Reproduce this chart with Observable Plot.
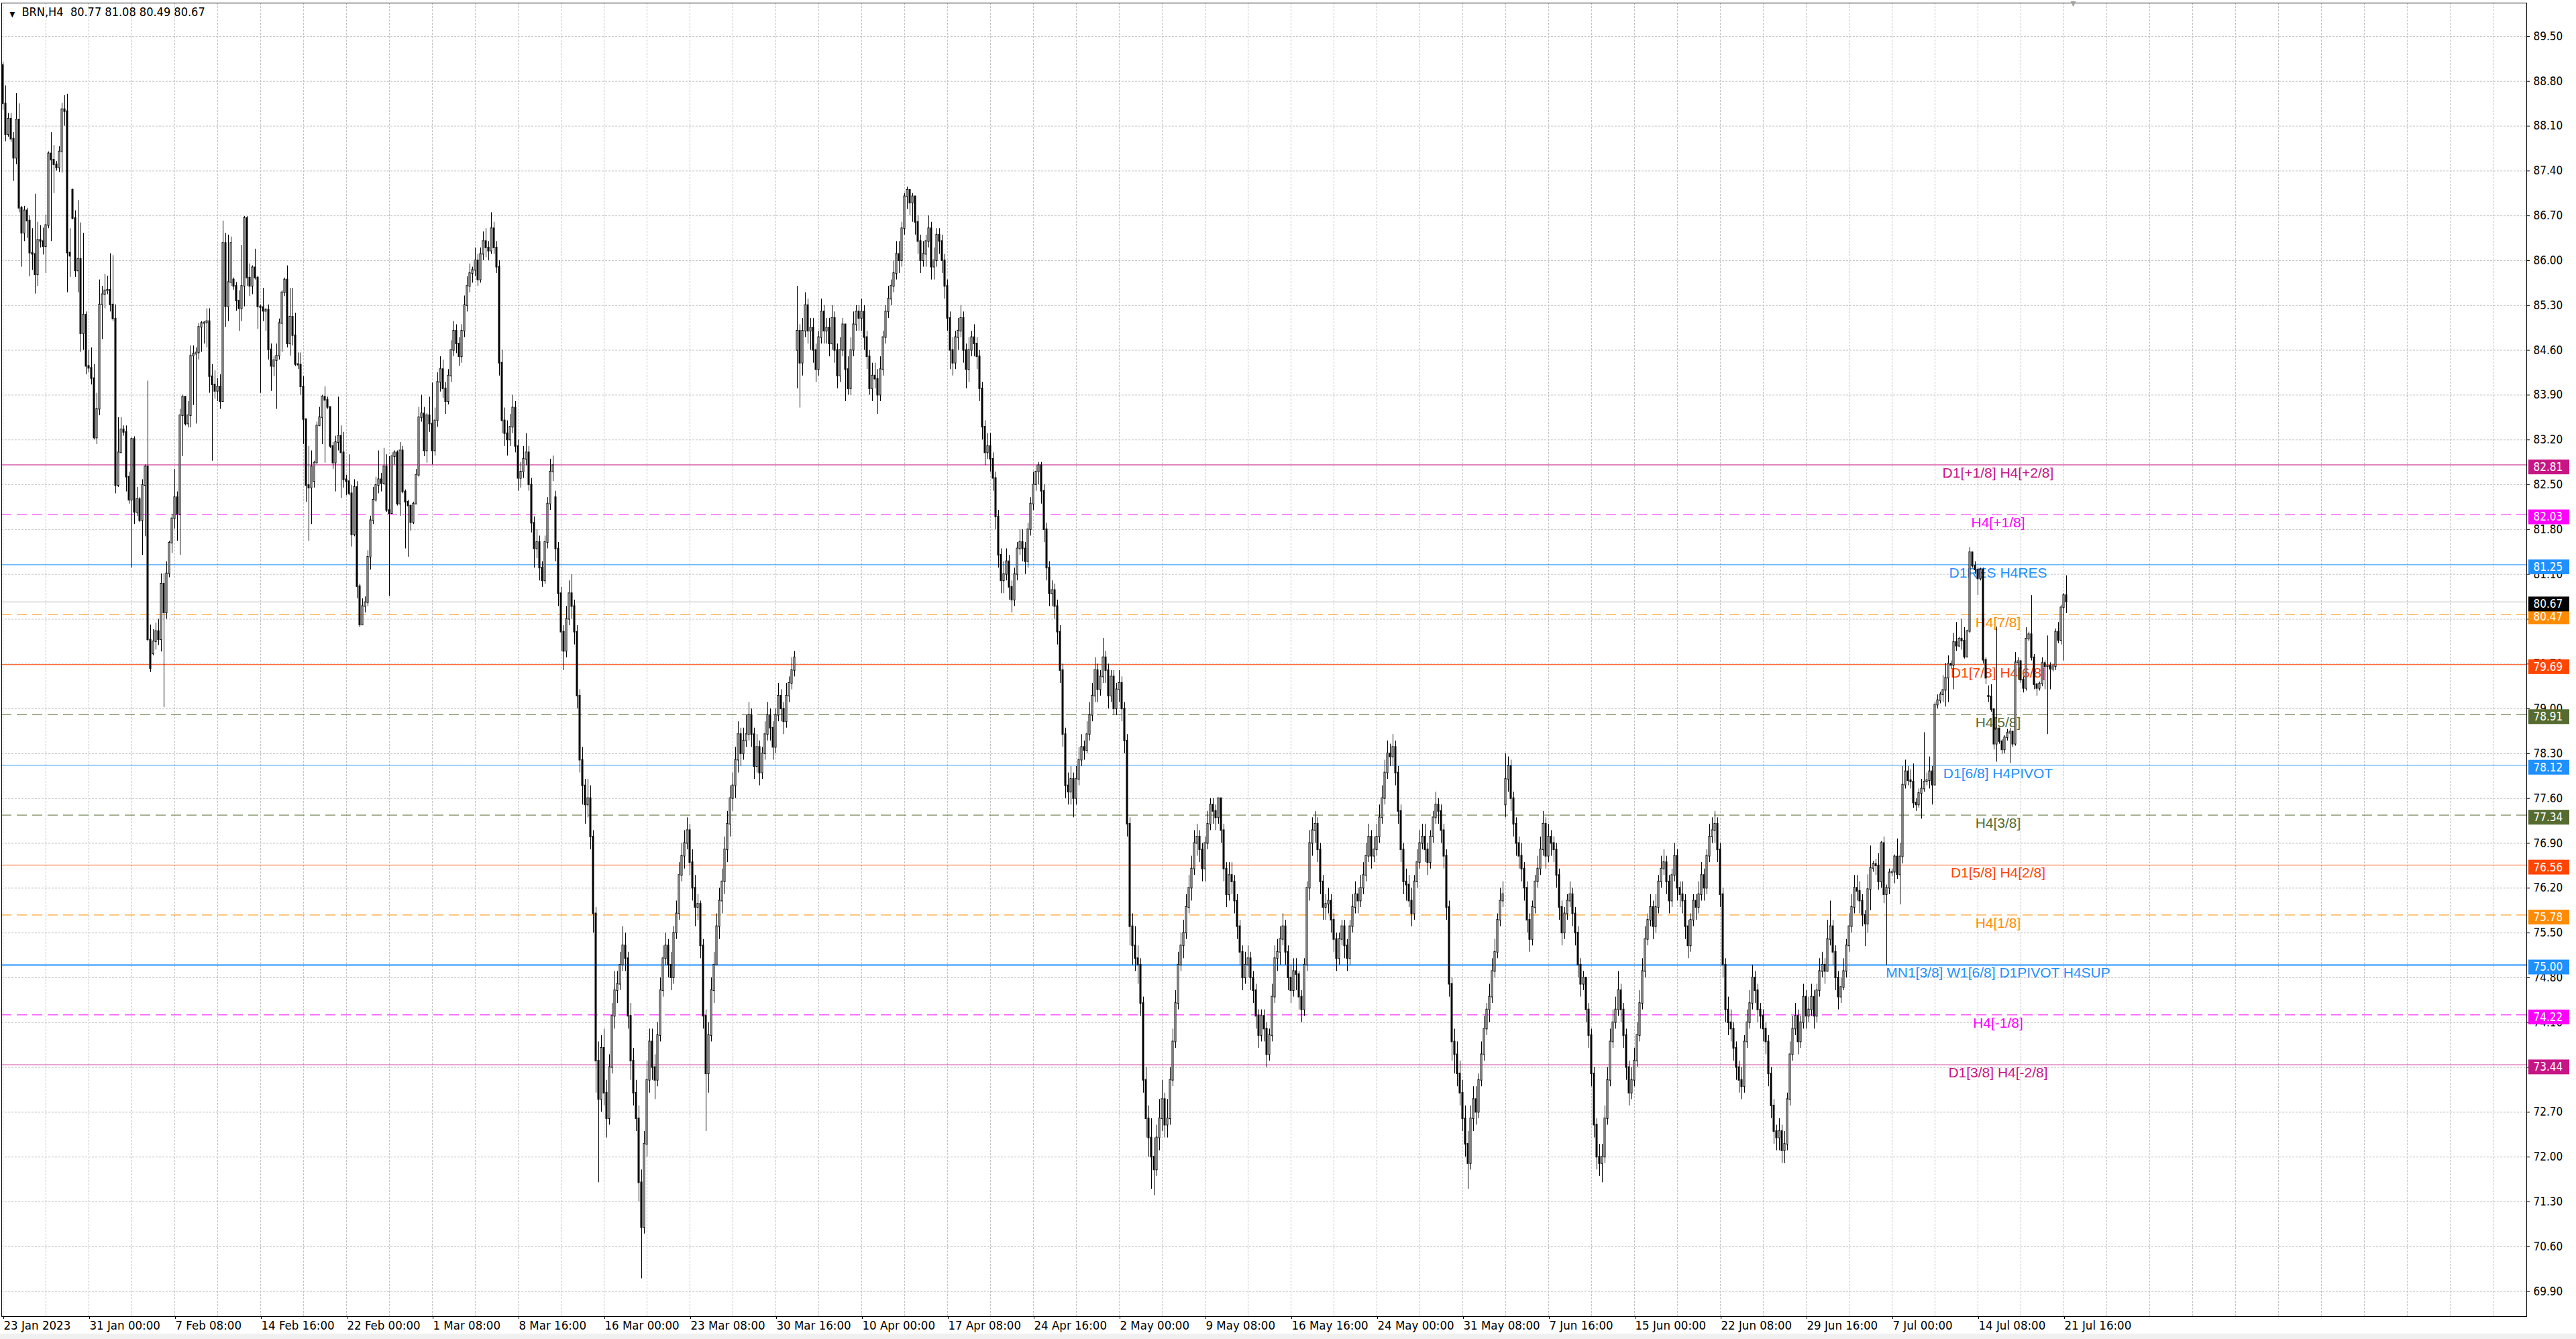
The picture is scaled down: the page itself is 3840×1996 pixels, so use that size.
<!DOCTYPE html>
<html><head><meta charset="utf-8">
<script src="https://cdn.jsdelivr.net/npm/d3@7"></script>
<script src="https://cdn.jsdelivr.net/npm/@observablehq/plot@0.6"></script>
<style>
html,body{margin:0;padding:0;background:#f0f0f0;overflow:hidden;}
#chart{position:absolute;left:0;top:0;}
</style></head><body><div id="chart"></div>
<script>
// ---- data: BRN H4 bars (index 0 = 23 Jan 2023 16:00) ----
const closes = [
88.45,87.97,88.21,87.9,87.6,88.2,86.82,86.43,86.78,86.62,
86.12,86.1,85.78,86.32,86.3,86.22,86.55,87.67,87.57,87.5,
87.45,87.7,88.36,88.33,86.12,86.07,86.66,85.84,86.02,84.86,
85.15,84.35,84.32,84.16,83.23,83.68,85.31,85.47,85.53,85.54,
85.31,85.09,82.49,83.0,83.36,83.32,82.62,82.26,83.21,82.07,
82.27,81.94,82.49,82.78,80.08,79.63,80.05,80.21,80.08,80.95,
80.5,81.11,81.59,81.97,82.3,82.04,83.58,83.87,83.45,83.58,
84.51,84.54,84.56,84.96,85.02,85.03,85.05,84.19,84.06,83.96,
84.03,83.8,86.27,85.28,85.66,86.27,85.6,85.37,85.25,85.6,
86.66,85.73,85.6,85.89,85.73,85.28,85.27,85.21,85.23,84.61,
84.35,84.44,84.51,85.02,85.5,85.7,84.7,85.12,84.83,84.38,
84.37,84.03,83.52,82.49,82.45,82.78,82.84,83.42,83.55,83.87,
83.82,83.71,83.1,82.84,83.16,83.26,83.0,82.58,82.55,82.36,
81.72,82.46,80.91,80.31,80.6,80.66,81.37,81.94,82.26,82.49,
82.58,82.52,82.78,82.1,82.05,82.94,83.0,82.2,83.03,82.39,
82.23,82.17,81.91,82.2,82.65,83.55,83.61,83.03,83.58,83.45,
83.03,83.5,84.1,84.3,84.0,83.8,84.2,84.6,84.9,84.7,
84.5,84.9,85.3,85.6,85.8,85.85,86.0,85.7,86.1,86.3,
86.2,86.15,86.5,86.2,85.9,84.4,83.5,83.3,83.2,83.4,
83.7,83.1,82.6,82.7,82.9,83.0,82.5,81.9,81.5,81.6,
81.2,81.0,81.6,82.2,82.7,82.8,81.5,80.8,80.2,79.9,
80.4,80.8,80.6,80.2,79.2,78.2,77.8,77.5,77.6,77.0,
75.8,73.5,72.9,73.7,73.0,72.6,73.4,74.2,74.6,74.7,
75.0,75.3,75.1,74.2,73.5,73.0,72.6,71.6,70.9,72.2,
73.2,73.8,73.4,73.2,73.9,74.6,75.1,75.3,75.0,74.8,
75.5,75.8,76.4,76.7,76.9,77.1,76.6,76.2,75.9,75.95,
75.3,74.2,73.3,73.9,74.6,75.0,75.6,76.0,76.3,76.8,
77.2,77.6,77.8,78.2,78.6,78.3,78.5,78.6,78.9,78.6,
78.1,78.4,78.0,78.3,78.6,78.9,78.7,78.4,78.9,79.2,
79.0,78.8,79.2,79.4,79.6,79.8,84.9,84.4,84.9,85.3,
84.9,84.95,84.6,84.3,84.8,85.2,84.9,84.95,84.7,85.1,
84.6,84.2,84.6,85.0,84.3,84.0,84.6,85.0,85.2,85.1,
85.2,84.8,84.5,84.0,84.2,84.15,83.9,84.3,84.8,85.2,
85.4,85.6,85.8,86.1,86.0,86.5,87.0,87.1,86.9,87.0,
86.6,86.3,86.0,86.1,86.3,86.5,85.9,86.0,86.4,86.3,
86.0,85.6,85.1,84.6,84.4,84.8,84.9,85.1,84.6,84.3,
84.6,84.8,84.7,84.5,84.0,83.4,83.0,83.1,82.9,82.6,
82.0,81.4,81.0,81.1,81.3,80.9,80.7,81.1,81.5,81.6,
81.5,81.3,81.8,82.2,82.5,82.7,82.8,82.4,81.8,81.2,
80.8,80.85,80.6,80.2,79.6,78.6,77.8,77.7,77.9,77.6,
77.9,78.2,78.4,78.35,78.6,78.9,79.2,79.6,79.3,79.5,
79.8,79.6,79.2,79.5,79.0,79.3,79.4,79.0,78.5,77.2,
75.6,75.3,75.1,75.0,74.4,73.2,72.6,72.3,72.0,71.8,
72.3,72.6,72.9,72.5,72.6,73.2,73.8,74.4,75.0,75.3,
75.5,75.9,76.2,76.5,76.9,77.0,76.8,76.5,76.9,77.2,
77.5,77.4,77.3,77.6,77.1,76.5,76.1,76.4,76.3,76.0,
75.6,75.2,74.8,75.0,75.1,74.8,74.6,74.2,73.9,74.2,
74.0,73.6,73.9,74.5,75.1,75.2,75.4,75.6,75.2,74.8,
74.6,74.9,74.85,74.5,74.3,75.0,76.2,76.9,77.1,77.2,
76.8,76.3,75.9,75.95,76.0,75.7,75.4,75.1,75.4,75.6,
75.3,75.1,75.6,75.9,76.1,76.0,76.2,76.4,76.7,77.0,
76.7,76.8,77.0,77.3,77.6,78.0,78.3,78.25,78.4,78.0,
77.4,76.8,76.3,76.25,76.0,75.8,76.3,76.6,76.9,77.0,
76.8,76.6,77.0,77.3,77.5,77.4,77.1,76.7,75.9,74.7,
73.8,73.6,73.3,73.0,72.6,72.2,71.9,72.6,72.9,72.7,
73.2,73.6,74.0,74.3,74.5,74.9,75.2,75.7,76.0,76.1,
77.9,78.1,77.6,77.2,76.9,76.7,76.5,76.2,75.7,75.4,
75.9,76.3,76.5,76.8,77.2,76.7,77.0,76.9,76.8,76.4,
75.9,75.5,75.8,76.0,76.1,75.8,75.5,75.0,74.7,74.8,
74.3,73.9,73.3,72.5,72.0,71.9,72.0,72.6,73.2,73.8,
74.1,74.3,74.6,74.3,73.9,73.4,73.0,73.2,73.5,73.9,
74.4,74.9,75.4,75.7,75.9,75.6,75.9,76.3,76.5,76.6,
76.3,76.0,76.4,76.7,76.2,76.1,76.0,75.6,75.3,75.7,
76.0,75.9,76.1,76.4,76.2,76.7,77.0,77.1,77.2,76.8,
76.1,75.0,74.3,74.1,74.0,73.7,73.4,73.2,73.1,73.8,
74.1,74.4,74.8,74.6,74.3,74.2,74.0,73.8,73.3,72.8,
72.4,72.3,72.4,72.1,72.2,72.9,73.6,74.0,74.2,73.8,
74.1,74.5,74.2,74.3,74.5,74.2,74.6,74.9,75.0,74.9,
75.4,75.6,75.2,74.8,74.5,74.65,74.9,75.3,75.6,75.9,
76.2,76.15,76.0,75.78,75.64,76.18,76.51,76.57,76.55,76.3,
76.9,76.1,76.2,76.44,76.45,76.69,76.41,76.69,77.81,78.02,
77.88,77.86,77.53,77.5,77.68,77.75,77.86,77.88,78.02,77.81,
79.06,79.13,79.22,79.29,79.48,79.7,79.68,80.04,79.98,80.09,
80.06,79.81,80.21,81.44,81.23,81.17,81.03,81.17,79.76,79.48,
79.19,78.99,78.45,78.69,78.49,78.36,78.55,78.62,78.64,78.45,
79.72,79.74,79.45,79.32,80.09,80.16,79.8,79.38,79.32,79.39,
79.71,79.66,79.67,79.62,79.66,80.2,80.07,80.58,80.77,80.67];
const highs = [
89.1,88.73,88.3,88.3,88.0,88.61,88.45,86.85,86.85,86.82,
86.7,86.5,87.04,86.6,86.55,86.51,86.71,87.7,88.0,87.8,
87.55,87.78,88.46,88.58,88.6,86.5,87.12,86.78,86.94,86.59,
86.43,85.2,84.6,84.64,84.38,83.93,85.7,85.6,85.79,85.76,
86.11,86.08,85.31,83.55,83.55,83.42,83.42,82.7,83.23,83.25,
82.46,82.3,82.58,82.81,84.12,80.31,80.24,80.34,80.4,81.11,
81.11,81.3,81.62,82.04,82.74,82.39,83.68,83.9,83.87,83.8,
84.67,84.67,84.64,85.02,85.05,85.05,85.25,85.25,84.38,84.28,
84.16,84.22,86.62,86.43,86.4,86.37,85.73,85.66,85.53,86.24,
86.69,86.69,85.95,85.92,86.18,85.76,85.31,85.57,85.25,85.31,
84.7,84.51,84.7,85.09,85.53,85.73,85.92,85.57,85.57,85.18,
84.56,84.56,84.19,83.52,83.1,83.03,82.87,83.48,83.71,83.9,
84.03,83.87,83.68,83.16,83.26,83.87,83.42,83.32,82.65,82.97,
82.49,82.58,82.55,80.95,80.72,80.75,81.47,82.01,82.46,82.62,
83.03,82.68,83.07,82.97,82.94,83.0,83.03,83.03,83.16,83.1,
82.42,82.26,81.97,82.23,82.74,83.71,83.9,83.71,83.61,83.87,
84.09,83.7,84.25,84.5,84.45,84.1,84.3,84.75,85.05,85.0,
84.8,85.0,85.45,85.75,85.95,85.9,86.2,86.1,86.2,86.45,
86.5,86.3,86.75,86.6,86.3,86.0,84.6,83.7,83.5,83.6,
83.9,83.8,83.2,82.85,83.1,83.3,83.1,82.6,82.0,81.8,
81.7,81.3,81.7,82.3,82.9,82.95,82.4,81.6,80.9,80.3,
80.6,81.0,81.1,80.7,80.3,79.3,78.4,77.9,77.9,77.8,
77.1,75.9,73.8,73.9,74.0,73.2,73.6,74.4,74.9,74.9,
75.2,75.6,75.5,75.2,74.4,73.7,73.2,72.8,71.8,72.4,
73.5,74.0,74.0,73.6,74.1,74.8,75.3,75.5,75.4,75.2,
75.6,76.0,76.6,76.9,77.1,77.3,77.2,76.8,76.4,76.1,
76.0,75.4,74.3,74.1,74.8,75.2,75.8,76.2,76.5,77.0,
77.4,77.8,78.0,78.4,78.8,78.7,78.7,78.9,79.1,79.0,
78.7,78.6,78.5,78.4,78.8,79.1,79.0,78.8,79.0,79.4,
79.3,79.1,79.4,79.5,79.8,79.9,85.6,85.0,85.1,85.5,
85.4,85.1,85.1,84.7,84.9,85.4,85.3,85.1,85.1,85.3,
85.2,84.7,84.8,85.1,85.0,84.5,84.8,85.2,85.3,85.3,
85.4,85.3,84.9,84.6,84.4,84.4,84.3,84.5,84.9,85.3,
85.6,85.7,86.0,86.3,86.3,86.6,87.05,87.15,87.1,87.05,
87.0,86.7,86.4,86.3,86.4,86.7,86.6,86.2,86.5,86.5,
86.4,86.1,85.7,85.2,84.8,84.9,85.1,85.3,85.2,84.7,
84.8,84.9,85.0,84.8,84.6,84.1,83.5,83.3,83.3,83.0,
82.7,82.1,81.5,81.3,81.5,81.4,81.0,81.2,81.6,81.8,
81.8,81.6,81.9,82.3,82.7,82.8,82.85,82.85,82.5,81.9,
81.3,81.0,80.95,80.7,80.3,79.7,78.7,78.0,78.1,78.0,
78.1,78.4,78.6,78.5,78.8,79.1,79.4,79.8,79.7,79.6,
80.1,79.9,79.7,79.6,79.6,79.4,79.6,79.5,79.1,78.6,
77.3,75.8,75.6,75.3,75.1,74.5,73.4,72.8,72.6,72.3,
72.5,72.9,73.2,73.0,72.9,73.4,74.0,74.6,75.2,75.5,
75.7,76.1,76.4,76.7,77.1,77.2,77.1,76.9,77.0,77.4,
77.6,77.6,77.5,77.6,77.5,77.2,76.6,76.6,76.6,76.4,
76.1,75.7,75.3,75.2,75.3,75.2,74.9,74.7,74.3,74.3,
74.3,74.1,74.0,74.7,75.3,75.4,75.6,75.8,75.7,75.3,
75.0,75.1,75.1,74.9,74.6,75.1,76.3,77.1,77.3,77.4,
77.3,76.9,76.4,76.1,76.2,76.1,75.8,75.5,75.5,75.7,
75.7,75.4,75.7,76.1,76.3,76.2,76.4,76.6,76.9,77.2,
77.1,77.0,77.2,77.5,77.8,78.2,78.5,78.45,78.6,78.5,
78.1,77.5,76.9,76.5,76.4,76.2,76.4,76.8,77.1,77.2,
77.2,76.9,77.1,77.4,77.7,77.6,77.5,77.2,76.8,76.0,
74.8,74.0,73.8,73.5,73.2,72.8,72.4,72.8,73.1,73.1,
73.3,73.8,74.2,74.4,74.7,75.1,75.4,75.8,76.2,76.3,
78.3,78.25,78.2,77.7,77.3,77.0,76.9,76.6,76.3,75.8,
76.0,76.4,76.7,77.0,77.4,77.3,77.2,77.1,77.0,76.9,
76.5,76.0,75.9,76.1,76.3,76.2,75.9,75.6,75.1,74.9,
74.8,74.4,74.0,73.4,72.6,72.2,72.2,72.8,73.4,74.0,
74.3,74.5,74.9,74.7,74.4,74.0,73.5,73.4,73.7,74.1,
74.6,75.1,75.6,75.8,76.1,76.0,76.1,76.4,76.7,76.8,
76.7,76.4,76.5,76.9,76.8,76.3,76.3,76.1,75.7,75.8,
76.1,76.1,76.3,76.6,76.5,76.8,77.2,77.3,77.4,77.3,
76.9,76.2,75.1,74.5,74.3,74.1,73.8,73.5,73.4,73.9,
74.3,74.6,75.0,74.9,74.7,74.4,74.3,74.1,73.9,73.4,
72.9,72.5,72.6,72.5,72.4,73.0,73.8,74.2,74.4,74.3,
74.2,74.7,74.6,74.5,74.7,74.6,74.7,75.1,75.2,75.1,
75.7,76.0,75.7,75.3,74.9,74.8,75.1,75.4,75.8,76.1,
76.4,76.4,76.3,76.1,75.85,76.41,76.86,76.62,76.65,76.74,
76.93,77.0,76.25,76.5,76.5,76.72,76.97,76.9,78.1,78.2,
78.1,78.05,78.14,77.6,77.75,77.9,78.63,78.0,78.25,78.1,
79.1,79.22,79.26,79.52,79.71,79.83,79.75,80.18,80.35,80.12,
80.4,80.27,80.23,81.52,81.44,81.3,81.2,81.2,81.2,79.8,
79.36,79.38,79.0,80.28,78.7,78.52,78.58,78.68,78.7,78.65,
79.88,79.8,79.76,79.5,80.27,80.2,80.77,79.85,79.4,79.42,
79.8,79.75,80.14,79.72,79.7,80.25,80.35,80.62,80.8,81.08];
const lows = [
88.35,87.86,87.93,87.85,87.24,87.5,86.75,85.9,86.3,86.35,
85.75,85.85,85.48,85.6,86.2,86.09,85.8,86.5,86.3,87.05,
87.4,87.38,87.37,88.1,85.5,85.74,86.64,85.74,85.5,84.57,
84.6,84.22,84.25,84.06,83.2,83.13,83.58,84.77,85.25,85.47,
85.2,85.05,82.36,82.46,83.1,83.26,82.39,82.2,81.2,81.88,
82.01,81.91,81.4,81.69,80.05,79.57,79.83,79.92,79.99,79.89,
79.02,80.4,81.05,81.43,81.81,81.62,81.4,82.94,83.42,83.39,
83.39,83.74,83.45,84.45,84.57,84.7,84.64,83.93,82.87,83.84,
83.8,83.68,83.8,84.96,85.05,85.6,85.54,85.21,84.9,85.05,
85.28,85.6,85.44,85.47,85.7,84.93,83.93,85.05,84.9,84.45,
83.96,84.19,83.68,84.45,84.57,85.44,84.64,84.51,84.67,84.35,
84.3,83.9,83.13,82.23,81.62,81.88,82.45,82.84,83.42,83.13,
82.84,83.68,83.07,82.74,82.39,83.03,82.29,82.45,82.33,82.33,
81.53,81.69,80.72,80.27,80.53,80.5,80.6,81.17,81.88,82.23,
82.36,82.39,82.49,82.07,80.76,82.39,82.81,82.17,82.01,82.36,
81.5,81.37,81.78,81.88,82.2,82.62,83.48,82.94,82.84,83.32,
82.81,82.95,83.4,83.95,83.85,83.6,83.75,84.1,84.5,84.55,
84.35,84.4,84.8,85.2,85.5,85.65,85.75,85.6,85.65,86.0,
86.05,86.0,86.1,86.1,85.8,84.2,83.3,83.1,82.95,83.1,
83.3,83.0,82.4,82.45,82.6,82.8,82.4,81.75,81.2,81.35,
81.0,80.9,80.95,81.5,82.1,82.55,81.3,80.6,79.9,79.6,
79.8,80.3,80.4,80.0,79.0,78.0,77.5,77.2,77.3,76.8,
75.5,73.0,71.6,72.7,72.8,72.3,72.5,73.3,74.0,74.4,
74.6,74.9,74.9,74.0,73.2,72.8,72.4,71.3,70.1,70.8,
72.0,73.0,73.2,72.9,73.1,73.8,74.5,75.0,74.8,74.6,
74.7,75.4,75.7,76.3,76.5,76.8,76.4,76.0,75.6,75.7,
75.1,74.0,72.4,73.0,73.8,74.4,75.0,75.4,75.8,76.1,
76.6,77.0,77.4,77.6,78.0,78.1,78.2,78.4,78.5,78.4,
77.9,78.0,77.8,77.9,78.2,78.5,78.5,78.2,78.3,78.8,
78.8,78.6,78.7,79.1,79.3,79.5,84.0,83.7,84.2,84.8,
84.7,84.6,84.4,84.1,84.2,84.7,84.7,84.7,84.5,84.6,
84.4,84.0,84.1,84.5,83.8,83.9,83.9,84.5,84.9,84.9,
84.9,84.6,84.3,83.9,83.8,84.0,83.6,83.8,84.2,84.7,
85.1,85.3,85.5,85.7,85.8,85.9,86.4,86.8,86.7,86.6,
86.4,86.1,85.8,85.9,85.9,86.2,85.7,85.7,85.9,86.1,
85.8,85.4,84.9,84.3,84.2,84.3,84.6,84.8,84.4,84.0,
84.1,84.5,84.5,84.3,83.8,83.2,82.8,82.9,82.7,82.4,
81.8,81.2,80.8,80.8,81.0,80.7,80.5,80.6,81.0,81.4,
81.3,81.1,81.2,81.7,82.1,82.4,82.5,82.2,81.6,81.0,
80.6,80.6,80.4,80.0,79.4,78.4,77.6,77.5,77.5,77.3,
77.5,77.8,78.1,78.2,78.3,78.5,78.8,79.1,79.1,79.2,
79.4,79.4,79.0,79.1,78.9,78.9,79.1,78.8,78.3,77.0,
75.3,75.0,74.9,74.7,74.2,73.0,72.3,72.0,71.5,71.4,
71.7,72.1,72.4,72.3,72.3,72.5,73.1,73.7,74.3,74.9,
75.1,75.4,75.8,76.0,76.4,76.7,76.6,76.3,76.3,76.8,
77.1,77.2,77.1,77.2,76.9,76.3,75.9,76.0,76.1,75.8,
75.4,75.0,74.6,74.7,74.8,74.6,74.4,74.0,73.7,73.8,
73.8,73.4,73.5,73.8,74.4,74.9,75.0,75.3,75.0,74.6,
74.4,74.5,74.6,74.3,74.1,74.2,74.9,76.0,76.7,76.9,
76.6,76.1,75.7,75.7,75.8,75.5,75.2,74.9,75.0,75.3,
75.1,74.9,75.0,75.5,75.8,75.8,75.9,76.1,76.3,76.6,
76.5,76.6,76.7,76.9,77.2,77.5,77.9,78.1,78.1,77.8,
77.2,76.6,76.1,76.0,75.9,75.6,75.7,76.2,76.5,76.8,
76.6,76.4,76.5,76.9,77.2,77.2,76.9,76.5,75.7,74.5,
73.5,73.3,73.1,72.8,72.4,72.0,71.5,71.8,72.4,72.5,
72.6,73.1,73.5,73.9,74.1,74.4,74.8,75.1,75.6,75.9,
77.3,77.7,77.4,77.0,76.7,76.5,76.3,76.0,75.5,75.2,
75.3,75.8,76.2,76.4,76.7,76.5,76.6,76.7,76.6,76.2,
75.7,75.3,75.4,75.7,75.9,75.6,75.3,74.8,74.5,74.6,
74.1,73.7,73.1,72.3,71.8,71.7,71.6,71.9,72.5,73.1,
73.7,74.0,74.2,74.1,73.7,73.2,72.8,72.9,73.1,73.4,
73.8,74.3,74.8,75.3,75.6,75.4,75.5,75.8,76.2,76.4,
76.1,75.8,75.9,76.3,76.0,75.9,75.8,75.4,75.1,75.2,
75.6,75.7,75.8,76.0,76.0,76.1,76.6,76.9,76.9,76.6,
75.9,74.8,74.1,73.9,73.8,73.5,73.2,73.0,72.9,73.0,
73.7,74.0,74.3,74.4,74.1,74.0,73.8,73.6,73.1,72.6,
72.2,72.1,72.1,71.9,71.9,72.1,72.8,73.5,73.9,73.6,
73.7,74.0,74.0,74.1,74.2,74.0,74.1,74.5,74.8,74.7,
74.9,75.3,75.0,74.6,74.3,74.4,74.6,74.8,75.2,75.5,
75.8,76.0,75.8,75.6,75.29,75.5,75.85,76.45,76.4,76.17,
76.2,75.96,75.0,76.1,76.38,76.27,76.34,75.94,76.58,77.75,
77.8,77.75,77.45,77.4,77.45,77.28,77.7,77.8,77.75,77.5,
77.8,79.0,79.08,79.1,79.03,79.1,79.62,79.3,79.9,79.96,
79.92,79.78,79.8,80.18,81.2,81.1,80.77,81.0,79.7,79.38,
79.1,78.95,78.36,78.17,78.45,78.29,78.3,78.5,78.15,78.4,
78.42,79.45,79.4,79.25,79.28,80.05,79.75,79.3,79.2,79.28,
79.35,79.3,78.6,79.3,79.58,79.6,80.02,80.0,79.75,80.49];
// opening prices after a weekend gap (otherwise a bar opens at the previous close)
const gapBars = [0, 26, 56, 86, 116, 206, 296, 560, 740];
const gapOpenPrices = [89.05, 87.1, 79.86, 85.7, 82.55, 82.3, 84.6, 77.5, 79.2];

const dateTicks = ["23 Jan 2023","31 Jan 00:00","7 Feb 08:00","14 Feb 16:00","22 Feb 00:00","1 Mar 08:00","8 Mar 16:00","16 Mar 00:00","23 Mar 08:00","30 Mar 16:00","10 Apr 00:00","17 Apr 08:00","24 Apr 16:00","2 May 00:00","9 May 08:00","16 May 16:00","24 May 00:00","31 May 08:00","7 Jun 16:00","15 Jun 00:00","22 Jun 08:00","29 Jun 16:00","7 Jul 00:00","14 Jul 08:00","21 Jul 16:00"];
const barsPerLabel = 32;
const priceTicks = [69.9,70.6,71.3,72.0,72.7,73.4,74.1,74.8,75.5,76.2,76.9,77.6,78.3,79.0,79.7,80.4,81.1,81.8,82.5,83.2,83.9,84.6,85.3,86.0,86.7,87.4,88.1,88.8,89.5];

const levelPrices = [82.81,82.03,81.25,80.47,79.69,78.91,78.12,77.34,76.56,75.78,75.00,74.22,73.44];
const levelLabels = ["D1[+1/8] H4[+2/8]","H4[+1/8]","D1RES H4RES","H4[7/8]","D1[7/8] H4[6/8]","H4[5/8]","D1[6/8] H4PIVOT","H4[3/8]","D1[5/8] H4[2/8]","H4[1/8]","MN1[3/8] W1[6/8] D1PIVOT H4SUP","H4[-1/8]","D1[3/8] H4[-2/8]"];
const levelColors = ["#C71585","#FF00FF","#1E90FF","#FF8C00","#FF4500","#556B2F","#1E90FF","#556B2F","#FF4500","#FF8C00","#1E90FF","#FF00FF","#C71585"];
const levelDashed = [false,true,false,true,false,true,false,true,false,true,false,true,false];
const levelWidths = [1,1,1,1,1,1,1,1,1,1,2,1,1];
const labelBar = 743.5;
const symbol = "BRN", timeframe = "H4";

// ---- build ----
const gapOpen = new Map(gapBars.map((b, k) => [b, gapOpenPrices[k]]));
const candles = closes.map((c, i) => {
  const o = gapOpen.has(i) ? gapOpen.get(i) : closes[i - 1];
  return {i, o, c, h: Math.max(highs[i], o, c), l: Math.min(lows[i], o, c)};
});
const last = candles[candles.length - 1];
const levels = levelPrices.map((p, k) => ({price: p, label: levelLabels[k], color: levelColors[k], dashed: levelDashed[k], width: levelWidths[k]}));
const tags = [...levels.map(d => ({price: d.price, bg: d.color})), {price: last.c, bg: "#000"}];
const gridBars = d3.range(0, 940, barsPerLabel / 2);
const dateTickBars = dateTicks.map((_, k) => k * barsPerLabel);

const W = 3840, H = 1988;
const xMax = 940.5;
const pxPerPrice = 95.45;
const tagOff = 3.6 / pxPerPrice, tagHalf = 11 / pxPerPrice;
const axisFont = "'DejaVu Sans', Tahoma, sans-serif";
const fmt = d3.format(".2f");

const chart = Plot.plot({
  width: W, height: H,
  marginLeft: 2, marginRight: 74, marginTop: 4, marginBottom: 26,
  x: {type: "linear", domain: [-0.5, xMax]},
  y: {type: "linear", domain: [69.509, 90.023]},
  style: {background: "#fff", fontFamily: axisFont, fontStretch: "condensed", overflow: "visible"},
  marks: [
    Plot.ruleY(priceTicks, {stroke: "#c3c3c3", strokeDasharray: "3,2"}),
    Plot.ruleX(gridBars, {stroke: "#c3c3c3", strokeDasharray: "3,2"}),
    Plot.ruleY(levels.filter(d => !d.dashed), {y: "price", stroke: "color", strokeWidth: "width"}),
    Plot.ruleY(levels.filter(d => d.dashed), {y: "price", stroke: "color", strokeDasharray: "15,8"}),
    Plot.ruleY([last.c], {stroke: "#c0c0c0"}),
    Plot.text(levels, {x: () => labelBar, y: "price", text: "label", fill: "color", lineAnchor: "top", dy: 4, fontSize: 21, fontFamily: "'Liberation Sans', Arial, sans-serif", fontStretch: "normal"}),
    Plot.ruleX(candles, {x: "i", y1: "l", y2: "h", stroke: "#000"}),
    Plot.rect(candles, {x1: d => d.i - 0.25, x2: d => d.i + 0.25, y1: d => Math.min(d.o, d.c), y2: d => Math.max(d.o, d.c), fill: d => d.c > d.o ? "#fff" : "#000", stroke: "#000", insetTop: -0.5, insetBottom: -0.5}),
    Plot.frame({stroke: "#000"}),
    Plot.axisY({anchor: "right", ticks: priceTicks, tickFormat: fmt, tickSize: 4, tickPadding: 6, fontSize: 17, fontFamily: axisFont, label: null, color: "#000"}),
    Plot.axisX({anchor: "bottom", ticks: dateTickBars, tickFormat: i => dateTicks[i / barsPerLabel], tickSize: 4, tickPadding: 2, textAnchor: "start", dx: 1, fontSize: 18.5, fontFamily: axisFont, label: null, color: "#000"}),
    Plot.rect(tags, {x1: xMax + 0.75, x2: xMax + 16, y1: d => d.price - tagOff - tagHalf, y2: d => d.price - tagOff + tagHalf, fill: "bg"}),
    Plot.text(tags, {frameAnchor: "right", y: d => d.price - tagOff, text: d => fmt(d.price), fill: "#fff", dx: 10, textAnchor: "start", fontSize: 17, fontFamily: axisFont}),
    Plot.text([`${symbol},${timeframe}\u00a0\u00a0${fmt(last.o)} ${fmt(last.h)} ${fmt(last.l)} ${fmt(last.c)}`], {frameAnchor: "top-left", dx: 30, dy: 7, lineAnchor: "top", textAnchor: "start", fontSize: 18, fontFamily: axisFont, fill: "#000"}),
    Plot.text(["\u25BC"], {frameAnchor: "top-left", dx: 12, dy: 13, fontSize: 11, fill: "#000"}),
    Plot.text(["\u25BC"], {x: () => last.i + 2.5, frameAnchor: "top", dy: -3, fontSize: 11, fill: "#a0a0a0"})
  ]
});
document.getElementById("chart").appendChild(chart);
</script>
</body></html>
